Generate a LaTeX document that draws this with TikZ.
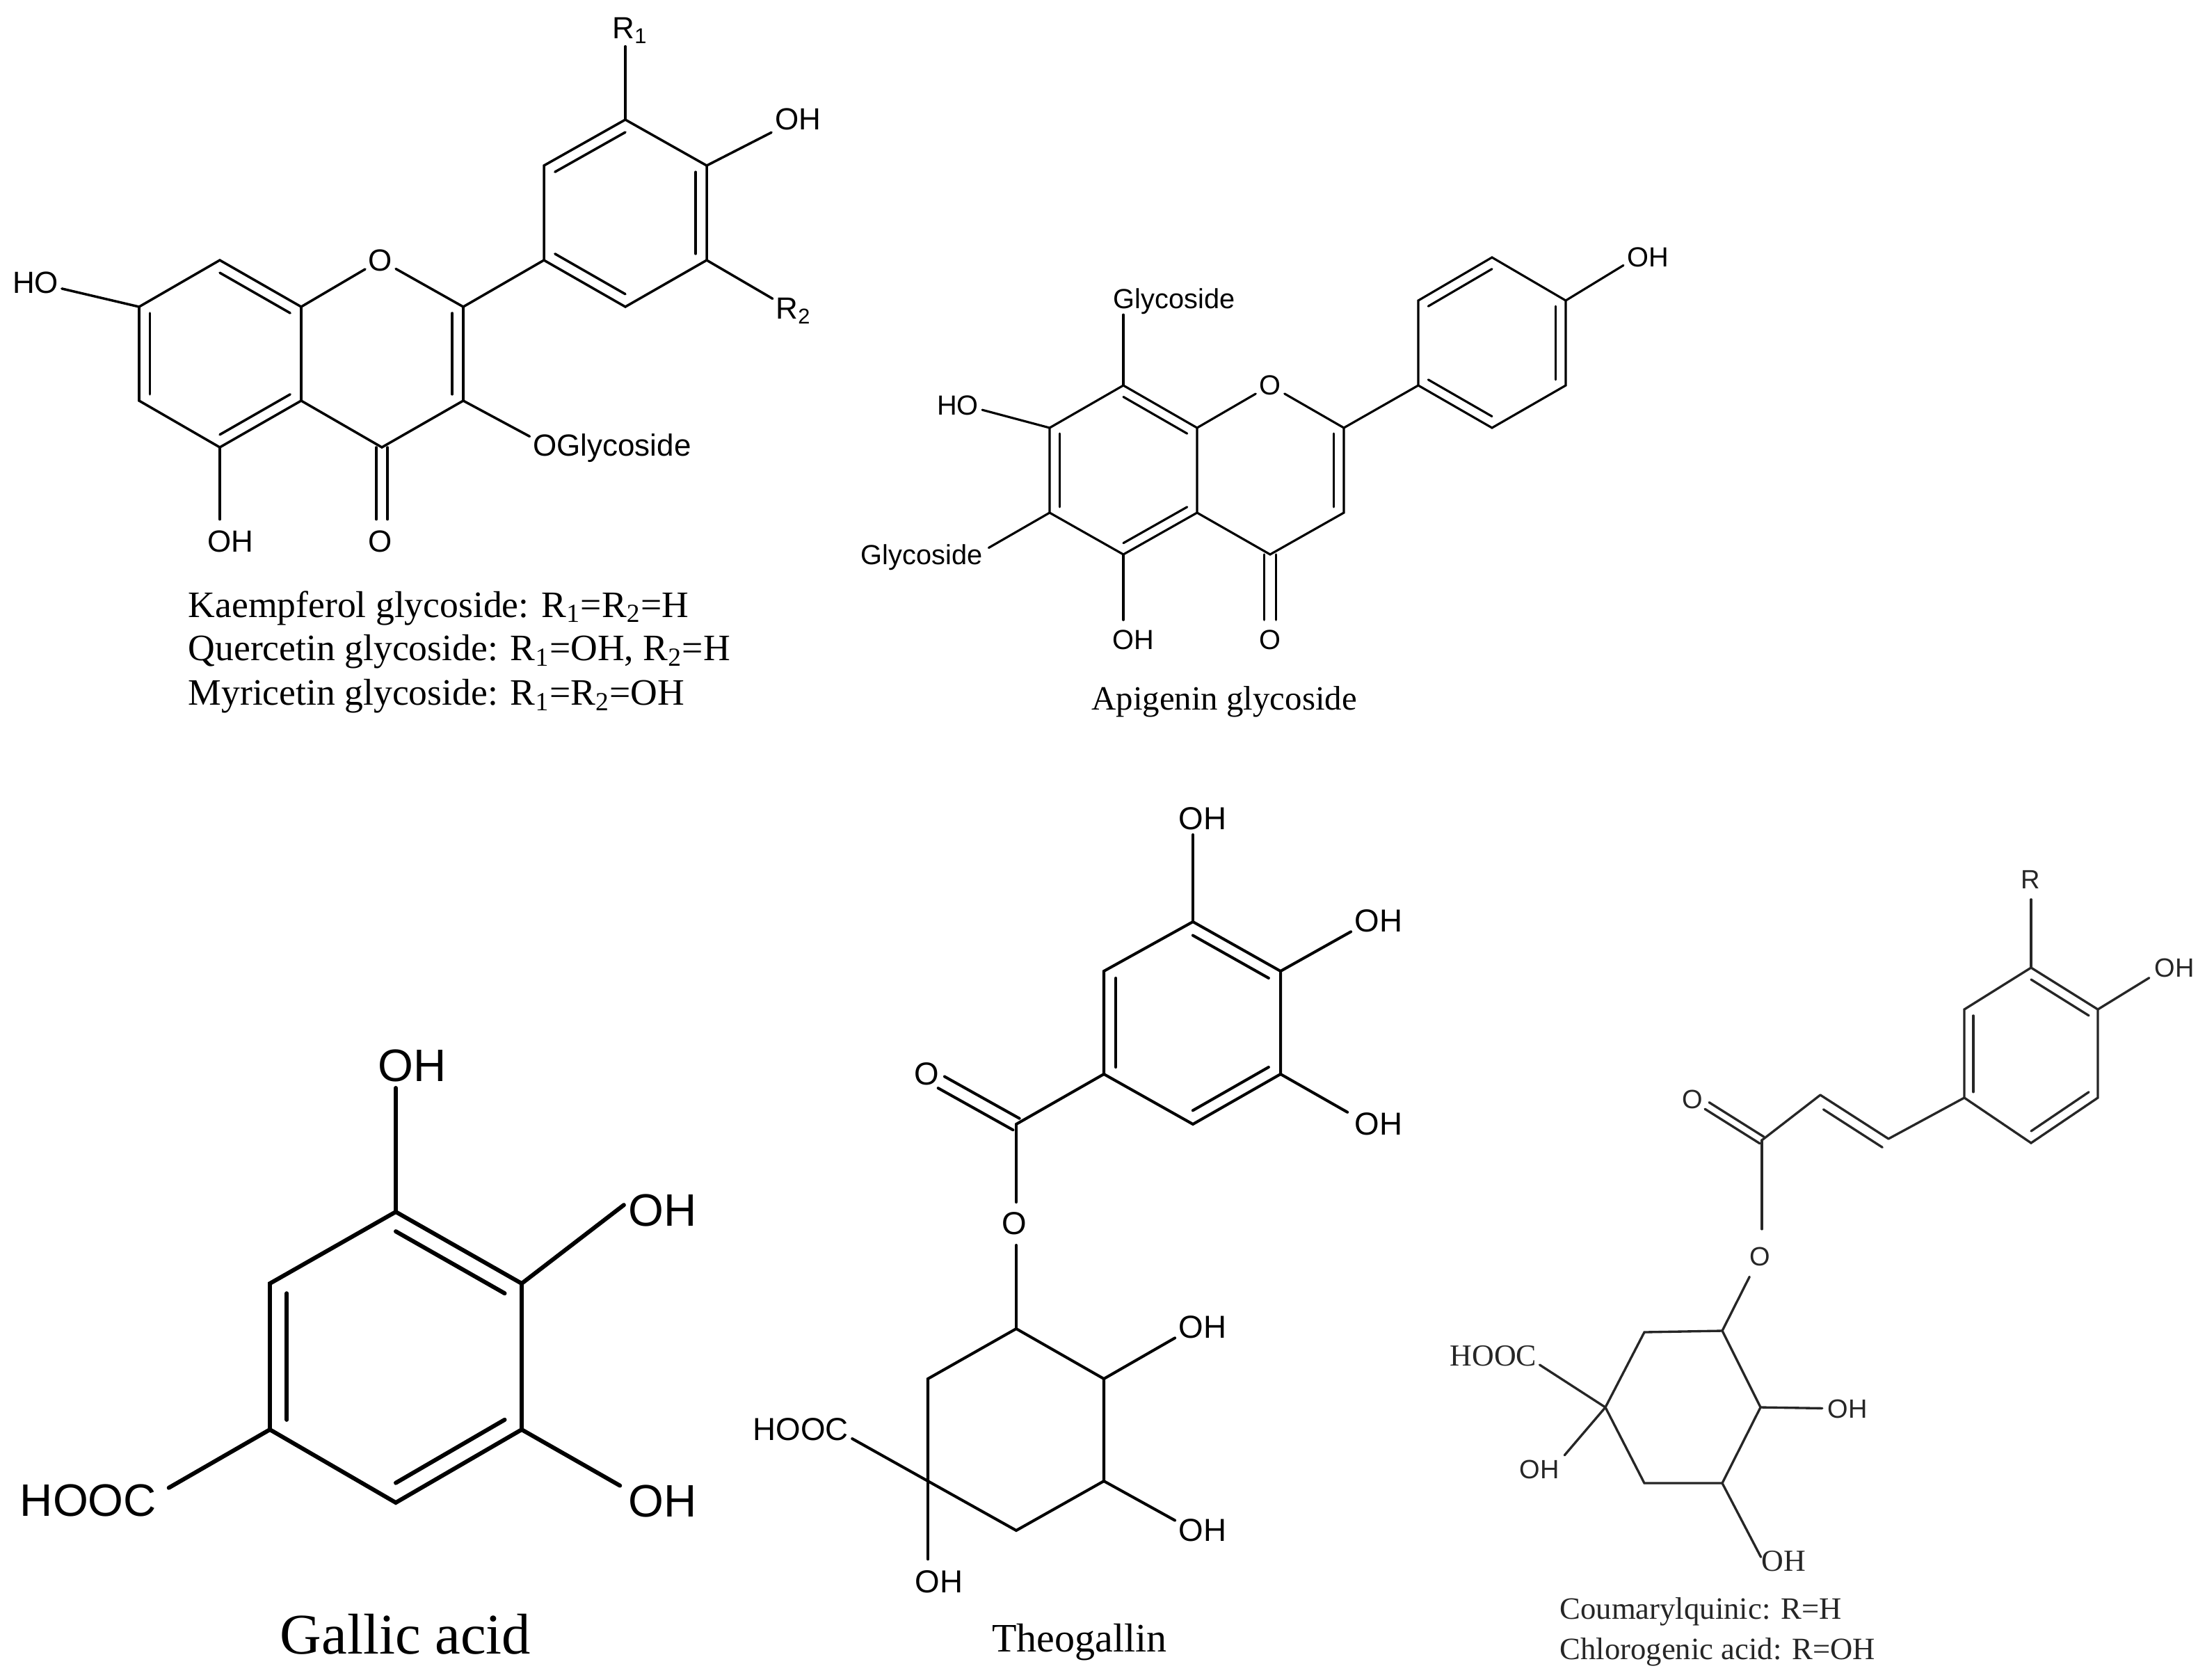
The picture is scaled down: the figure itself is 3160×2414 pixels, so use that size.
\documentclass[tikz,border=0pt]{standalone}
\usepackage{fontspec}
\setmainfont{Liberation Serif}
\setsansfont{Liberation Sans}
\usetikzlibrary{calc}
\tikzset{
    bondk/.style = {line width=1pt,black,line cap=round},
    bonda/.style = {line width=.9pt,black,line cap=round},
    bondg/.style = {line width=1.7pt,black,line cap=round},
    bondt/.style = {line width=1.15pt,black,line cap=round},
    bondc/.style = {line width=.95pt,black!85,line cap=round},
    atomk/.style = {inner xsep=1.2pt,inner ysep=4.3pt,font=\sffamily\fontsize{12.5pt}{14pt}\selectfont},
    atoma/.style = {inner xsep=1.3pt,inner ysep=4pt,font=\sffamily\fontsize{11.3pt}{13pt}\selectfont},
    atomg/.style = {inner xsep=1pt,inner ysep=2.3pt,font=\sffamily\fontsize{18.6pt}{20pt}\selectfont},
    atomt/.style = {inner xsep=1.4pt,inner ysep=4.5pt,font=\sffamily\fontsize{13pt}{15pt}\selectfont},
    atomc/.style = {inner xsep=2pt,inner ysep=4.3pt,text=black!85,font=\sffamily\fontsize{10.8pt}{12pt}\selectfont},
    atomcs/.style = {inner xsep=1pt,inner ysep=2pt,text=black!85,font=\fontsize{12.5pt}{14pt}\selectfont},
    capn/.style = {inner sep=0pt,font=\fontsize{#1}{16pt}\selectfont},
}
\newcommand{\ringdbl}[4]{\draw[#1] ($(#2)!.135!(#4)$) -- ($(#3)!.135!(#4)$);}
\newcommand{\twobond}[4]{%
  \draw[#1] ($(#2)!#4!90:(#3)$) -- ($(#3)!#4!-90:(#2)$);
  \draw[#1] ($(#2)!#4!-90:(#3)$) -- ($(#3)!#4!90:(#2)$);}
\begin{document}
\begin{tikzpicture}[x=0.01cm,y=-0.01cm]
\useasboundingbox (0,0) rectangle (3160,2414);
% kaempferol type
\coordinate (k7) at (200,441);
\coordinate (k8) at (316,374);
\coordinate (k8a) at (433,441);
\coordinate (k4a) at (433,576);
\coordinate (k5) at (316,643);
\coordinate (k6) at (200,576);
\coordinate (k2) at (666,441);
\coordinate (k3) at (666,576);
\coordinate (k4) at (549,643);
\coordinate (k1p) at (782,374);
\coordinate (k2p) at (782,238);
\coordinate (k3p) at (899,172);
\coordinate (k4p) at (1016,238);
\coordinate (k5p) at (1016,374);
\coordinate (k6p) at (899,441);
\coordinate (kra) at (316,508);
\coordinate (krc) at (549,508);
\coordinate (krb) at (899,306);
\node[atomk] at (547,374) (ko) {O};
\node[atomk] at (51,406) (kho) {HO};
\node[atomk] at (331,778) (koh) {OH};
\node[atomk] at (547,778) (kok) {O};
\node[atomk] at (880,644) (kgl) {OGlycoside};
\node[atomk,inner ysep=1pt] at (906,44) (kr1) {R\textsubscript{1}};
\node[atomk] at (1147,171) (koh4) {OH};
\node[atomk] at (1141,447) (kr2) {R\textsubscript{2}};
%
\draw[bondk] (k7) -- (k8) -- (k8a) -- (k4a) -- (k5) -- (k6) -- cycle;
\draw[bondk] (k8a) -- (ko);
\draw[bondk] (ko) -- (k2);
\draw[bondk] (k2) -- (k3) -- (k4) -- (k4a);
\draw[bondk] (k1p) -- (k2p) -- (k3p) -- (k4p) -- (k5p) -- (k6p) -- cycle;
\draw[bondk] (k2) -- (k1p);
\draw[bondk] (k7) -- (kho);
\draw[bondk] (k5) -- (k5 |- koh.north);
\draw[bondk] (k3) -- (kgl.172);
\draw[bondk] (k3p) -- (k3p |- kr1.south);
\draw[bondk] (k4p) -- (koh4);
\draw[bondk] (k5p) -- (kr2);
\twobond{bondk}{k4}{k4 |- kok.north}{2.3pt}
\ringdbl{bondk}{k7}{k6}{kra}
\ringdbl{bondk}{k8}{k8a}{kra}
\ringdbl{bondk}{k5}{k4a}{kra}
\ringdbl{bondk}{k2}{k3}{krc}
\ringdbl{bondk}{k2p}{k3p}{krb}
\ringdbl{bondk}{k4p}{k5p}{krb}
\ringdbl{bondk}{k1p}{k6p}{krb}
\node[capn=15.25pt,anchor=west] at (270,874) (capk1) {Kaempferol glycoside: R\textsubscript{1}=R\textsubscript{2}=H};
\node[capn=15.25pt,anchor=west] at (270,937) (capk2) {Quercetin glycoside: R\textsubscript{1}=OH, R\textsubscript{2}=H};
\node[capn=15.25pt,anchor=west] at (270,1001) (capk3) {Myricetin glycoside: R\textsubscript{1}=R\textsubscript{2}=OH};
% apigenin
\coordinate (a8) at (1615,554);
\coordinate (a7) at (1509,615);
\coordinate (a6) at (1509,737);
\coordinate (a5) at (1615,797);
\coordinate (a4a) at (1721,737);
\coordinate (a8a) at (1721,615);
\coordinate (a2) at (1932,615);
\coordinate (a3) at (1932,737);
\coordinate (a4) at (1826,797);
\coordinate (a1p) at (2039,554);
\coordinate (a2p) at (2039,432);
\coordinate (a3p) at (2145,370);
\coordinate (a4p) at (2251,432);
\coordinate (a5p) at (2251,554);
\coordinate (a6p) at (2145,615);
\coordinate (ara) at (1615,676);
\coordinate (arc) at (1826,676);
\coordinate (arb) at (2145,493);
\node[atoma] at (1826,554) (ao) {O};
\node[atoma] at (1629,920) (aoh) {OH};
\node[atoma] at (1826,920) (aok) {O};
\node[atoma,inner ysep=0pt] at (1688,433) (agl8) {Glycoside};
\node[atoma] at (1377,583) (aho) {HO};
\node[atoma,inner xsep=2.4pt] at (1325,801) (agl6) {Glycoside};
\node[atoma] at (2369,370) (aoh4) {OH};
%
\draw[bonda] (a8) -- (a8a) -- (a4a) -- (a5) -- (a6) -- (a7) -- cycle;
\draw[bonda] (a8a) -- (ao);
\draw[bonda] (ao) -- (a2);
\draw[bonda] (a2) -- (a3) -- (a4) -- (a4a);
\draw[bonda] (a1p) -- (a2p) -- (a3p) -- (a4p) -- (a5p) -- (a6p) -- cycle;
\draw[bonda] (a2) -- (a1p);
\draw[bonda] (a5) -- (a5 |- aoh.north);
\draw[bonda] (a8) -- (a8 |- agl8.south);
\draw[bonda] (a7) -- (aho.-10);
\draw[bonda] (a6) -- (agl6.8);
\draw[bonda] (a4p) -- (aoh4.198);
\twobond{bonda}{a4}{a4 |- aok.north}{2.4pt}
\ringdbl{bonda}{a7}{a6}{ara}
\ringdbl{bonda}{a8}{a8a}{ara}
\ringdbl{bonda}{a5}{a4a}{ara}
\ringdbl{bonda}{a2}{a3}{arc}
\ringdbl{bonda}{a2p}{a3p}{arb}
\ringdbl{bonda}{a4p}{a5p}{arb}
\ringdbl{bonda}{a1p}{a6p}{arb}
\node[capn=13.9pt] at (1760,1009) (capa) {Apigenin glycoside};
% gallic acid
\coordinate (g1) at (569,1742);
\coordinate (g2) at (750,1845);
\coordinate (g3) at (750,2055);
\coordinate (g4) at (569,2160);
\coordinate (g5) at (388,2055);
\coordinate (g6) at (388,1845);
\coordinate (grm) at (569,1950);
\node[atomg] at (593,1532) (goh1) {OH};
\node[atomg,inner xsep=1.8pt] at (953,1740) (goh2) {OH};
\node[atomg,inner xsep=3.4pt] at (953,2158) (goh3) {OH};
\node[atomg,inner xsep=4.8pt] at (127,2157) (ghooc) {HOOC};
%
\draw[bondg] (g1) -- (g2) -- (g3) -- (g4) -- (g5) -- (g6) -- cycle;
\draw[bondg] (g1) -- (g1 |- goh1.south);
\draw[bondg] (g2) -- (goh2.172);
\draw[bondg] (g3) -- (goh3.160);
\draw[bondg] (g5) -- (ghooc.9);
\ringdbl{bondg}{g1}{g2}{grm}
\ringdbl{bondg}{g3}{g4}{grm}
\ringdbl{bondg}{g5}{g6}{grm}
\node[capn=23.5pt] at (583,2349) (capg) {Gallic acid};
% theogallin
\coordinate (t1) at (1715,1325);
\coordinate (t2) at (1841,1396);
\coordinate (t3) at (1841,1544);
\coordinate (t4) at (1715,1616);
\coordinate (t5) at (1587,1544);
\coordinate (t6) at (1587,1396);
\coordinate (trm) at (1714,1470);
\coordinate (tco) at (1461,1616);
\coordinate (tq1) at (1461,1910);
\coordinate (tq2) at (1587,1982);
\coordinate (tq3) at (1587,2129);
\coordinate (tq4) at (1461,2200);
\coordinate (tq5) at (1334,2129);
\coordinate (tq6) at (1334,1982);
\node[atomt,inner ysep=1.7pt] at (1729,1177) (toh1) {OH};
\node[atomt] at (1982,1324) (toh2) {OH};
\node[atomt,inner xsep=2.8pt] at (1982,1616) (toh3) {OH};
\node[atomt,inner xsep=.8pt] at (1332,1544) (tok) {O};
\node[atomt,inner ysep=4pt] at (1458,1759) (toe) {O};
\node[atomt] at (1729,1908) (toh4) {OH};
\node[atomt] at (1729,2200) (toh5) {OH};
\node[atomt] at (1151,2055) (thooc) {HOOC};
\node[atomt] at (1350,2274) (toh6) {OH};
%
\draw[bondt] (t1) -- (t2) -- (t3) -- (t4) -- (t5) -- (t6) -- cycle;
\draw[bondt] (t1) -- (t1 |- toh1.south);
\draw[bondt] (t2) -- (toh2.201);
\draw[bondt] (t3) -- (toh3.159);
\draw[bondt] (t5) -- (tco);
\draw[bondt] (tco) -- (tco |- toe.north);
\draw[bondt] (tq1 |- toe.south) -- (tq1);
\draw[bondt] (tq1) -- (tq2) -- (tq3) -- (tq4) -- (tq5) -- (tq6) -- cycle;
\draw[bondt] (tq2) -- (toh4.201);
\draw[bondt] (tq3) -- (toh5.160);
\draw[bondt] (tq5) -- (thooc.-10);
\draw[bondt] (tq5) -- (tq5 |- toh6.north);
\twobond{bondt}{tco}{tok.-29}{2.7pt}
\ringdbl{bondt}{t1}{t2}{trm}
\ringdbl{bondt}{t3}{t4}{trm}
\ringdbl{bondt}{t5}{t6}{trm}
\node[capn=16.5pt] at (1552,2361) (capt) {Theogallin};
% chlorogenic type
\coordinate (c1) at (2920,1391);
\coordinate (c2) at (3016,1451);
\coordinate (c3) at (3016,1578);
\coordinate (c4) at (2920,1643);
\coordinate (c5) at (2824,1578);
\coordinate (c6) at (2824,1451);
\coordinate (crm) at (2920,1517);
\coordinate (cv2) at (2715,1637);
\coordinate (cv1) at (2617,1574);
\coordinate (cvm) at (2650,1728);
\coordinate (cco) at (2533,1639);
\coordinate (cq1) at (2476,1913);
\coordinate (cq2) at (2531,2023);
\coordinate (cq3) at (2476,2132);
\coordinate (cq4) at (2364,2132);
\coordinate (cq5) at (2308,2023);
\coordinate (cq6) at (2364,1915);
\node[atomc] at (2919,1264) (cr) {R};
\node[atomc] at (3126,1391) (coh1) {OH};
\node[atomc,inner xsep=1.6pt] at (2433,1580) (cok) {O};
\node[atomc] at (2530,1806) (coe) {O};
\node[atomc] at (2656,2025) (coh2) {OH};
\node[atomcs,inner sep=0pt] at (2564,2244) (coh3) {OH};
\node[atomc] at (2213,2112) (coh4) {OH};
\node[atomcs] at (2147,1949) (chooc) {HOOC};
%
\draw[bondc] (c1) -- (c2) -- (c3) -- (c4) -- (c5) -- (c6) -- cycle;
\draw[bondc] (c1) -- (c1 |- cr.south);
\draw[bondc] (c2) -- (coh1.202);
\draw[bondc] (c5) -- (cv2);
\draw[bondc] (cv2) -- (cv1);
\draw[bondc] (cv1) -- (cco);
\draw[bondc,shorten >=2.8pt] (cco) -- (cco |- coe.north);
\draw[bondc] (coe) -- (cq1);
\draw[bondc] (cq1) -- (cq2) -- (cq3) -- (cq4) -- (cq5) -- (cq6) -- cycle;
\draw[bondc] (cq2) -- (coh2);
\draw[bondc] (cq3) -- (coh3.170);
\draw[bondc] (cq5) -- (coh4.29);
\draw[bondc] (cq5) -- (chooc.-11);
\twobond{bondc}{cco}{cok.-24}{1.6pt}
\ringdbl{bondc}{cv1}{cv2}{cvm}
\ringdbl{bondc}{c1}{c2}{crm}
\ringdbl{bondc}{c3}{c4}{crm}
\ringdbl{bondc}{c5}{c6}{crm}
\node[capn=12.7pt,anchor=west,text=black!85] at (2242,2317) (capc1) {Coumarylquinic: R=H};
\node[capn=12.7pt,anchor=west,text=black!85] at (2242,2375) (capc2) {Chlorogenic acid: R=OH};
\end{tikzpicture}
\end{document}
